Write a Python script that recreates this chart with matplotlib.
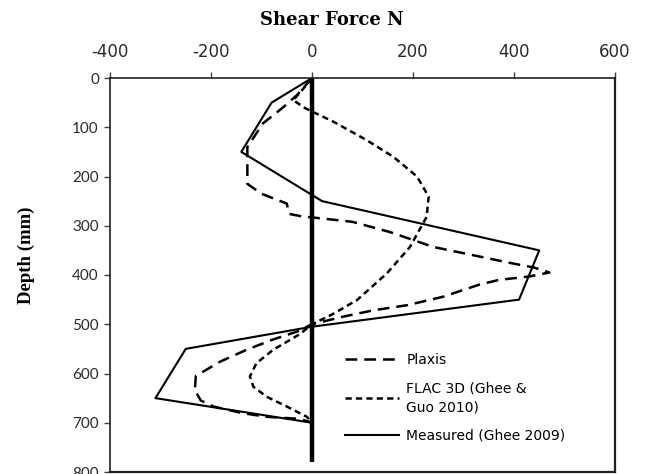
import matplotlib
matplotlib.use("Agg")
import matplotlib.pyplot as plt

plt.rcParams['lines.scale_dashes'] = False
plt.rcParams['axes.unicode_minus'] = False

# Measured (Ghee 2009)
measured_force = [0, -80, -140, 20, 450, 410, 0, -250, -310, 0]
measured_depth = [0, 50, 150, 250, 350, 450, 505, 550, 650, 700]

# Plaxis
plaxis_force = [0, -30, -60, -97, -128, -128, -100, -50, -45, -20, 0, 80, 155, 240, 320, 390, 440, 470,
                430, 370, 330, 260, 190, 120, 60, 0, -30, -80, -130, -182, -230, -232, -220, -195, -140, -90, -25, 0]
plaxis_depth = [0, 35, 62, 92, 140, 215, 235, 255, 276, 281, 283, 292, 313, 343, 360, 375, 385, 395,
                403, 410, 420, 444, 461, 472, 485, 500, 515, 532, 552, 576, 605, 634, 655, 667, 680, 688, 692, 700]

# FLAC 3D (Ghee & Guo 2010)
flac_force = [0, -20, -37, -14, 0, 43, 108, 161, 208, 231, 227, 194, 148, 89, 40, 0,
              -24, -77, -110, -123, -116, -90, -50, -10, 0]
flac_depth = [0, 25, 45, 61, 68, 89, 126, 160, 200, 241, 282, 343, 397, 451, 480, 500,
              520, 552, 579, 606, 627, 647, 667, 688, 700]

# Pile axis line
pile_force = [0, 0]
pile_depth = [0, 780]

x_ticks = [-400, -200, 0, 200, 400, 600]
y_ticks = [0, 100, 200, 300, 400, 500, 600, 700, 800]

fig = plt.figure(figsize=(6.48, 4.74), dpi=100)
ax = fig.add_axes([110/648, 1 - 472/474, 505/648, 394/474])

ax.plot(plaxis_force, plaxis_depth, color='black', lw=1.8, dashes=(8.5, 5), label='Plaxis')
ax.plot(flac_force, flac_depth, color='black', lw=1.8, dashes=(4.5, 3), label='FLAC 3D (Ghee &\nGuo 2010)')
ax.plot(measured_force, measured_depth, color='black', lw=1.5, label='Measured (Ghee 2009)')
ax.plot(pile_force, pile_depth, color='black', lw=3.2, solid_capstyle='butt')

ax.set_xlim(-400, 600)
ax.set_ylim(800, 0)
ax.set_xticks(x_ticks)
ax.set_yticks(y_ticks)
ax.xaxis.tick_top()
ax.tick_params(axis='both', direction='out', length=4, width=1, color='#404040',
               labelcolor='#2a2a2a')
ax.tick_params(axis='x', pad=8, labelsize=12)
ax.tick_params(axis='y', pad=4, labelsize=11)
for lab in ax.get_xticklabels():
    lab.set_fontfamily('DejaVu Sans')
for lab in ax.get_yticklabels():
    lab.set_fontfamily('Lato')

for side, sp in ax.spines.items():
    sp.set_color('#202020')
    sp.set_linewidth(1.6 if side in ('right', 'bottom') else 1.2)

fig.text(332/648, 1 - 20/474, 'Shear Force N', ha='center', va='center',
         fontsize=13, fontweight='bold', family='DejaVu Serif')
fig.text(26/648, 1 - 255/474, 'Depth (mm)', ha='center', va='center', rotation=90,
         fontsize=13.5, fontweight='bold', family='Liberation Serif')

leg = ax.legend(loc='upper left', bbox_to_anchor=(0.441, 0.335), frameon=False,
                handlelength=3.9, handletextpad=0.5, labelspacing=1.05,
                prop={'family': 'DejaVu Sans', 'size': 10})
for t in leg.get_texts():
    t.set_linespacing(1.45)

fig.savefig('out.png', dpi=100)
